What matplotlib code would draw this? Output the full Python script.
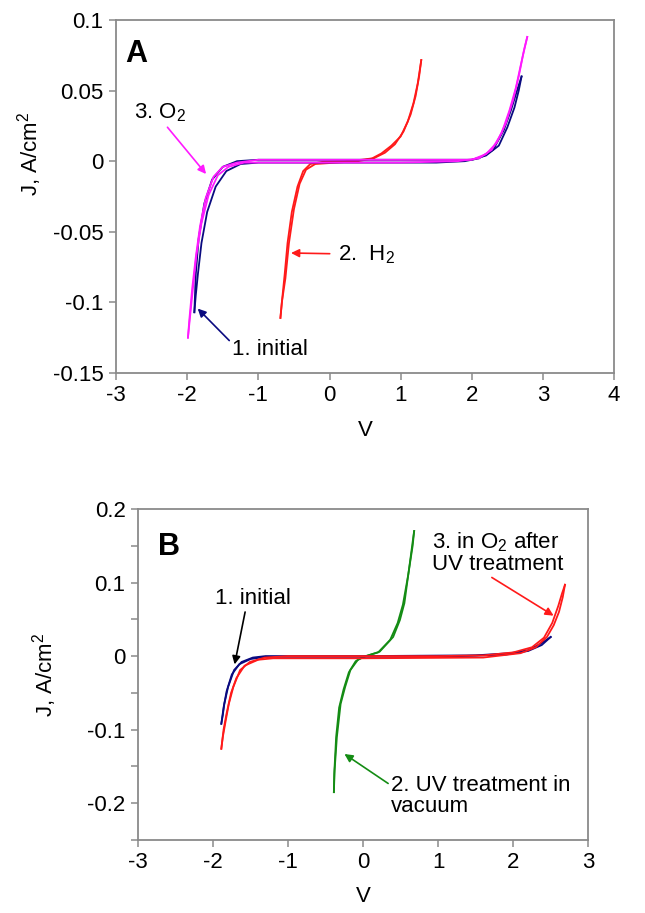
import matplotlib
matplotlib.use('Agg')
import matplotlib.pyplot as plt

plt.rcParams['font.family'] = ['Liberation Sans', 'DejaVu Sans']
plt.rcParams['mathtext.fontset'] = 'custom'
plt.rcParams['mathtext.rm'] = 'Liberation Sans'
plt.rcParams['mathtext.it'] = 'Liberation Sans'
plt.rcParams['axes.unicode_minus'] = False

# ---- panel A data (V, J in A/cm2), two sweep branches per curve ----
a_init_fwd_v = [-1.90, -1.88, -1.85, -1.80, -1.72, -1.60, -1.45, -1.25, -1.0, -0.5, 0.0, 0.5, 1.0, 1.5, 1.9, 2.1, 2.3, 2.45, 2.55, 2.63, 2.70]
a_init_fwd_j = [-0.107, -0.095, -0.080, -0.058, -0.036, -0.018, -0.007, -0.002, -0.001, -0.001, -0.001, -0.001, -0.001, -0.001, 0.000, 0.002, 0.008, 0.022, 0.036, 0.049, 0.060]
a_init_rev_v = [2.70, 2.66, 2.60, 2.50, 2.38, 2.2, 2.0, 1.5, 1.0, 0.5, 0.0, -0.5, -1.0, -1.3, -1.50, -1.65, -1.76, -1.84, -1.88, -1.90]
a_init_rev_j = [0.060, 0.050, 0.038, 0.024, 0.011, 0.004, 0.001, 0.001, 0.001, 0.001, 0.001, 0.001, 0.001, 0.000, -0.004, -0.013, -0.030, -0.055, -0.080, -0.107]

a_o2_fwd_v = [-1.99, -1.97, -1.93, -1.88, -1.82, -1.74, -1.63, -1.50, -1.3, -1.0, 0.0, 1.0, 2.0, 2.2, 2.35, 2.48, 2.58, 2.66, 2.72, 2.78]
a_o2_fwd_j = [-0.125, -0.112, -0.090, -0.068, -0.046, -0.026, -0.011, -0.004, -0.001, 0.001, 0.001, 0.001, 0.001, 0.005, 0.013, 0.027, 0.043, 0.060, 0.075, 0.088]
a_o2_rev_v = [2.78, 2.74, 2.68, 2.62, 2.53, 2.42, 2.28, 2.1, 1.8, 1.0, 0.0, -1.0, -1.2, -1.42, -1.57, -1.70, -1.80, -1.87, -1.92, -1.96, -1.99]
a_o2_rev_j = [0.088, 0.080, 0.066, 0.052, 0.036, 0.020, 0.008, 0.002, 0.000, -0.001, -0.001, -0.001, -0.001, -0.004, -0.010, -0.024, -0.044, -0.066, -0.090, -0.110, -0.125]

a_h2_fwd_v = [-0.69, -0.66, -0.63, -0.59, -0.53, -0.45, -0.37, -0.27, -0.1, 0.2, 0.45, 0.6, 0.73, 0.87, 1.0, 1.10, 1.18, 1.24, 1.29]
a_h2_fwd_j = [-0.111, -0.095, -0.080, -0.058, -0.036, -0.018, -0.007, -0.002, -0.0005, 0.0, 0.001, 0.002, 0.0055, 0.011, 0.0175, 0.028, 0.041, 0.055, 0.0716]
a_h2_rev_v = [1.29, 1.26, 1.21, 1.14, 1.04, 0.92, 0.78, 0.62, 0.4, 0.1, -0.2, -0.33, -0.42, -0.50, -0.57, -0.62, -0.67, -0.69]
a_h2_rev_j = [0.0716, 0.060, 0.046, 0.033, 0.021, 0.012, 0.006, 0.002, 0.0, -0.001, -0.002, -0.006, -0.016, -0.034, -0.058, -0.083, -0.100, -0.111]

# ---- panel B data ----
b_init_fwd_v = [-1.89, -1.87, -1.85, -1.80, -1.72, -1.62, -1.47, -1.3, 0.0, 1.5, 1.96, 2.2, 2.37, 2.50]
b_init_fwd_j = [-0.092, -0.080, -0.065, -0.042, -0.019, -0.008, -0.002, 0.0, 0.0, 0.001, 0.004, 0.008, 0.017, 0.026]
b_init_rev_v = [2.50, 2.38, 2.2, 1.9, 1.0, -1.3, -1.5, -1.65, -1.75, -1.82, -1.86, -1.89]
b_init_rev_j = [0.026, 0.015, 0.007, 0.002, -0.001, -0.001, -0.004, -0.011, -0.025, -0.048, -0.070, -0.092]

b_o2_fwd_v = [-1.89, -1.87, -1.83, -1.79, -1.73, -1.64, -1.51, -1.31, -1.0, 0.0, 1.0, 1.61, 2.0, 2.25, 2.41, 2.52, 2.60, 2.65, 2.69]
b_o2_fwd_j = [-0.126, -0.110, -0.087, -0.065, -0.042, -0.019, -0.008, -0.002, 0.0, 0.0, 0.0, 0.001, 0.005, 0.012, 0.025, 0.045, 0.068, 0.085, 0.097]
b_o2_rev_v = [2.69, 2.66, 2.61, 2.54, 2.45, 2.30, 2.1, 1.6, 0.0, -1.2, -1.4, -1.58, -1.69, -1.76, -1.82, -1.86, -1.89]
b_o2_rev_j = [0.097, 0.080, 0.060, 0.042, 0.026, 0.012, 0.004, -0.002, -0.003, -0.003, -0.005, -0.013, -0.030, -0.050, -0.078, -0.100, -0.126]

b_uv_fwd_v = [-0.39, -0.38, -0.35, -0.30, -0.24, -0.17, -0.07, 0.04, 0.22, 0.40, 0.49, 0.55, 0.61, 0.67, 0.68]
b_uv_fwd_j = [-0.185, -0.155, -0.110, -0.065, -0.042, -0.019, -0.005, 0.0, 0.006, 0.026, 0.049, 0.072, 0.117, 0.163, 0.170]
b_uv_rev_v = [0.68, 0.66, 0.60, 0.53, 0.46, 0.36, 0.20, 0.0, -0.10, -0.19, -0.26, -0.32, -0.36, -0.385, -0.39]
b_uv_rev_j = [0.170, 0.150, 0.110, 0.070, 0.045, 0.022, 0.005, -0.001, -0.007, -0.022, -0.045, -0.070, -0.110, -0.160, -0.185]

a_xticks = [-3, -2, -1, 0, 1, 2, 3, 4]
a_yticks = [-0.15, -0.1, -0.05, 0, 0.05, 0.1]
a_ylabels = ['-0.15', '-0.1', '-0.05', '0', '0.05', '0.1']
b_xticks = [-3, -2, -1, 0, 1, 2, 3]
b_yticks = [-0.25, -0.2, -0.15, -0.1, -0.05, 0, 0.05, 0.1, 0.15, 0.2]
b_ylabels = ['', '-0.2', '', '-0.1', '', '0', '', '0.1', '', '0.2']

NAVY = '#0a0a80'
MAGENTA = '#ff1aff'
RED = '#ff1a1a'
GREEN = '#148c14'
GRAY = '#8a8a8a'
FS = 16


def style_axes(ax, xticks, yticks, ylabels):
    for sp in ax.spines.values():
        sp.set_color(GRAY)
        sp.set_linewidth(1.3)
    ax.set_xticks(xticks)
    ax.set_xticklabels([str(t) for t in xticks])
    ax.set_yticks(yticks)
    ax.set_yticklabels(ylabels)
    ax.tick_params(direction='out', length=5, width=1.1, color=GRAY,
                   labelsize=FS, pad=4)
    ax.set_xlim(xticks[0], xticks[-1])
    ax.set_ylim(yticks[0], yticks[-1])


def loop(ax, fv, fj, rv, rj, color):
    ax.plot(fv, fj, color=color, lw=1.3)
    ax.plot(rv, rj, color=color, lw=1.3)


fig = plt.figure(figsize=(6.45, 9.13), dpi=100)

# panel A
ax1 = fig.add_axes([0.180, 0.5915, 0.772, 0.3866])
style_axes(ax1, a_xticks, a_yticks, a_ylabels)
loop(ax1, a_h2_fwd_v, a_h2_fwd_j, a_h2_rev_v, a_h2_rev_j, RED)
loop(ax1, a_init_fwd_v, a_init_fwd_j, a_init_rev_v, a_init_rev_j, NAVY)
loop(ax1, a_o2_fwd_v, a_o2_fwd_j, a_o2_rev_v, a_o2_rev_j, MAGENTA)
ax1.set_xlabel('V', fontsize=FS, labelpad=10)
ax1.set_ylabel('J, A/cm$^2$', fontsize=FS)
ax1.yaxis.set_label_coords(-0.145, 0.62)
ax1.text(0.018, 0.905, 'A', transform=ax1.transAxes, fontsize=22,
         fontweight='bold', va='center')

arr = dict(arrowstyle='-|>', lw=1.2, mutation_scale=12)
ax1.annotate('3. O$_2$', xy=(-1.71, -0.0106), xytext=(-2.75, 0.034),
             fontsize=FS, va='center',
             arrowprops=dict(arr, color=MAGENTA, shrinkA=0, relpos=(0.6, 0)))
ax1.annotate('2.  H$_2$', xy=(-0.58, -0.065), xytext=(0.12, -0.066),
             fontsize=FS, va='center',
             arrowprops=dict(arr, color=RED, shrinkA=4))
ax1.annotate('1. initial', xy=(-1.88, -0.103), xytext=(-1.37, -0.1335),
             fontsize=FS, va='center',
             arrowprops=dict(arr, color=NAVY, shrinkA=0, relpos=(0, 0.8)))

# panel B
ax2 = fig.add_axes([0.214, 0.080, 0.698, 0.3625])
style_axes(ax2, b_xticks, b_yticks, b_ylabels)
loop(ax2, b_uv_fwd_v, b_uv_fwd_j, b_uv_rev_v, b_uv_rev_j, GREEN)
loop(ax2, b_init_fwd_v, b_init_fwd_j, b_init_rev_v, b_init_rev_j, NAVY)
loop(ax2, b_o2_fwd_v, b_o2_fwd_j, b_o2_rev_v, b_o2_rev_j, RED)
ax2.set_xlabel('V', fontsize=FS, labelpad=9)
ax2.set_ylabel('J, A/cm$^2$', fontsize=FS)
ax2.yaxis.set_label_coords(-0.175, 0.50)
ax2.text(0.045, 0.885, 'B', transform=ax2.transAxes, fontsize=22,
         fontweight='bold', va='center')

ax2.annotate('1. initial', xy=(-1.72, -0.015), xytext=(-1.97, 0.078),
             fontsize=FS, va='center',
             arrowprops=dict(arr, color='black', shrinkA=0, relpos=(0.4, 0)))
ax2.annotate('2. UV treatment in\nvacuum', xy=(-0.28, -0.131), xytext=(0.37, -0.19),
             fontsize=FS, va='center', linespacing=1.0,
             arrowprops=dict(arr, color=GREEN, shrinkA=0, relpos=(0, 0.75)))
ax2.annotate('3. in O$_2$ after\nUV treatment', xy=(2.57, 0.053), xytext=(0.92, 0.141),
             fontsize=FS, va='center', linespacing=1.0,
             arrowprops=dict(arr, color=RED, shrinkA=0, relpos=(0.42, 0)))

fig.savefig('out.png', dpi=100)
